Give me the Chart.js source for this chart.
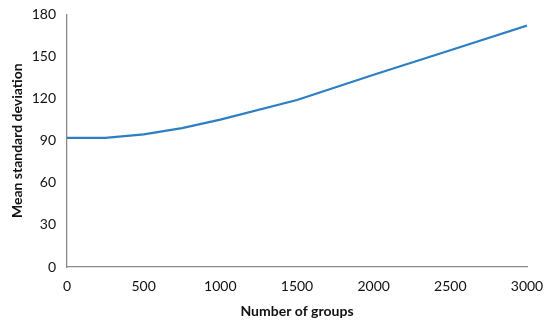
<!DOCTYPE html>
<html lang="en">
<head>
    <meta charset="UTF-8">
    <title>Mean standard deviation</title>
    <script src="https://cdn.jsdelivr.net/npm/chart.js@4.4.1/dist/chart.umd.min.js"></script>
    <style>
        body { margin: 0; background: #fff; }
    </style>
</head>
<body>
    <canvas id="sdChart" width="550" height="328"></canvas>
<script>
    // data
    const groups = [0, 250, 500, 750, 1000, 1500, 2000, 2500, 3000];
    const meanSd = [92, 92, 94.5, 99, 105, 119, 137, 154.5, 172];
    const xTicks = [0, 500, 1000, 1500, 2000, 2500, 3000];
    const yTicks = [0, 30, 60, 90, 120, 150, 180];

    const points = groups.map((g, i) => ({ x: g, y: meanSd[i] }));
    const axisGrey = '#898989';
    const family = 'Lato, "Open Sans", sans-serif';
    const labelFont = { family: family, size: 14 };
    const titleFont = { family: family, size: 14, weight: 'bold' };

    const ctx = document.getElementById('sdChart').getContext('2d');
    const chart = new Chart(ctx, {
        type: 'scatter',
        data: {
            datasets: [{
                data: points,
                showLine: true,
                borderColor: '#2E7EC4',
                borderWidth: 2.2,
                pointRadius: 0,
                tension: 0
            }]
        },
        options: {
            responsive: false,
            animation: false,
            layout: { padding: { left: 9, right: 23, top: 13, bottom: 0 } },
            plugins: { legend: { display: false }, tooltip: { enabled: false } },
            scales: {
                x: {
                    type: 'linear',
                    min: 0,
                    max: 3000,
                    afterBuildTicks: (s) => { s.ticks = xTicks.map(v => ({ value: v })); },
                    afterFit: (s) => { s.height = 61; },
                    grid: { display: false, drawTicks: true, tickLength: 5, tickColor: axisGrey },
                    border: { color: axisGrey, width: 1.3 },
                    ticks: { color: '#111', font: labelFont, padding: 6, maxRotation: 0, callback: v => String(v) },
                    title: {
                        display: true,
                        text: 'Number of groups',
                        color: '#111',
                        font: titleFont,
                        padding: { top: 2, bottom: 8 }
                    }
                },
                y: {
                    min: 0,
                    max: 180,
                    afterBuildTicks: (s) => { s.ticks = yTicks.map(v => ({ value: v })); },
                    afterFit: (s) => { s.width = 58; },
                    grid: { display: false, drawTicks: true, tickLength: 5, tickColor: axisGrey },
                    border: { color: axisGrey, width: 1.3 },
                    ticks: { color: '#111', font: labelFont, padding: 6, callback: v => String(v) },
                    title: {
                        display: true,
                        text: 'Mean standard deviation',
                        color: '#111',
                        font: titleFont,
                        padding: { top: 0, bottom: 4 }
                    }
                }
            }
        }
    });
</script>
</body>
</html>
